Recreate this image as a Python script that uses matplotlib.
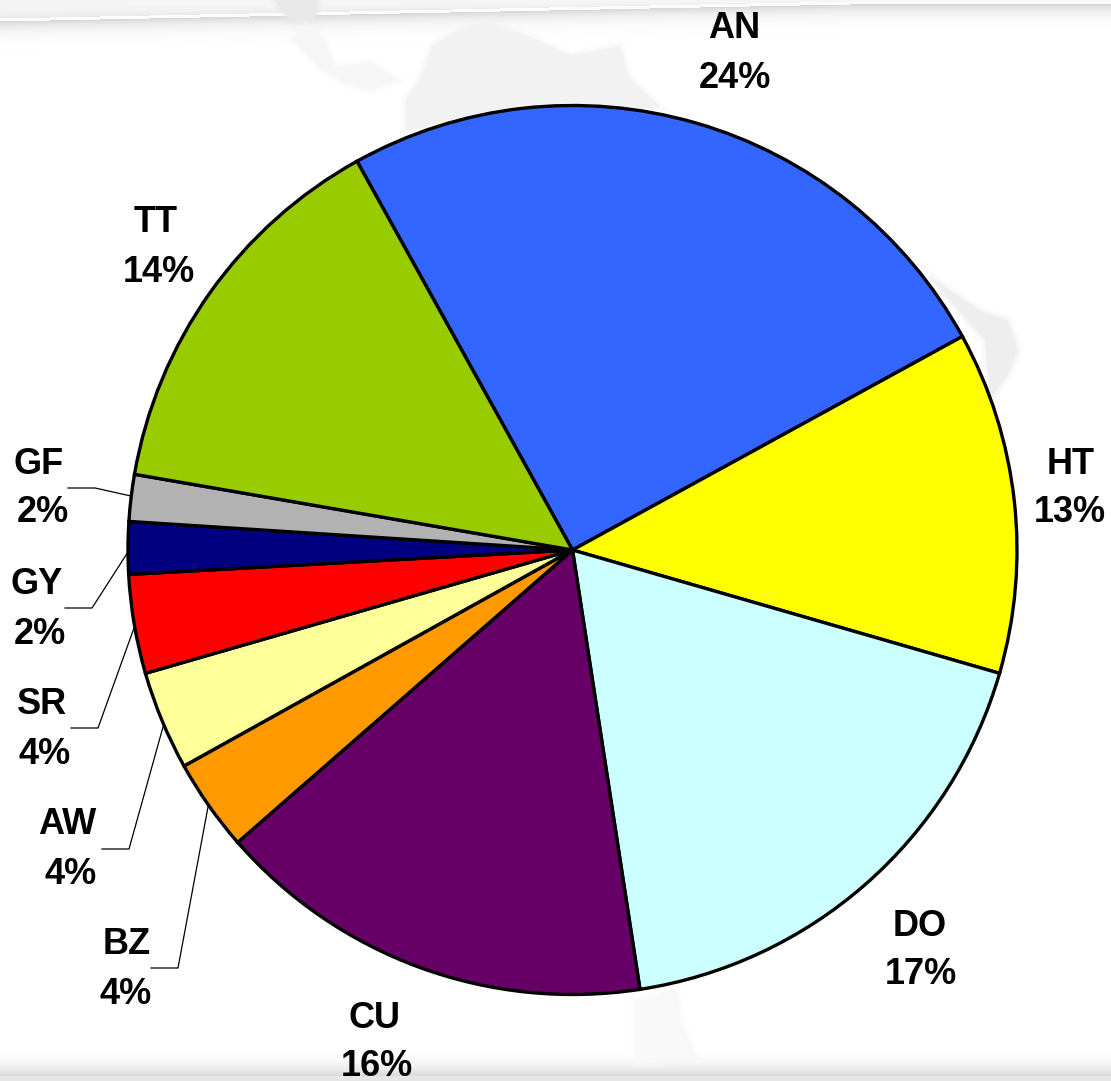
import matplotlib
matplotlib.use('Agg')
import matplotlib.pyplot as plt
import numpy as np

plt.rcParams['font.family'] = ['Liberation Sans', 'DejaVu Sans']

W, H = 1111, 1081

# Data, clockwise from the TT/AN boundary
codes = ['AN', 'HT', 'DO', 'CU', 'BZ', 'AW', 'SR', 'GY', 'GF', 'TT']
shown_pct = [24, 13, 17, 16, 4, 4, 4, 2, 2, 14]
# slices as drawn do not quite follow the printed percentages
slice_share = [25.08, 12.45, 18.1, 16.0, 3.35, 3.6, 3.6, 1.9, 1.7, 14.22]
colors = ['#3366FF', '#FFFF00', '#CCFFFF', '#660066', '#FF9900',
          '#FFFF99', '#FF0000', '#000080', '#B2B2B2', '#99CC00']

# Label layout in pixels: name x, name y, pct x, pct y
label_pos = [(734, 24, 735, 74), (1071, 461, 1070, 509), (920, 922, 921, 971),
             (375, 1014, 377, 1062), (127, 941, 126, 990), (67, 821, 71, 870),
             (42, 701, 45, 750), (37, 580, 40, 630), (39, 460, 43, 509),
             (156, 219, 159, 268)]

# Leader lines in pixels
leaders = [[(68, 488), (95, 488), (131, 496)],
           [(65, 608), (92, 608), (128, 552)],
           [(71, 728), (98, 728), (134, 628)],
           [(102, 849), (129, 849), (163, 727)],
           [(151, 968), (178, 968), (208, 807)]]

# Faint map shapes behind the pie, with their grey level
map_shapes = [([(293, 40), (305, 22), (321, 36), (335, 68), (370, 63), (396, 80), (370, 90),
                (347, 84), (320, 67)], '#F6F6F6'),
              ([(406, 130), (406, 100), (420, 80), (433, 46), (460, 30), (483, 22), (527, 36),
                (570, 56), (620, 46), (628, 77), (660, 107), (570, 115)], '#F2F2F2'),
              ([(930, 277), (983, 313), (1007, 320), (1018, 350), (1007, 375), (991, 398),
                (985, 340)], '#EEEEEE'),
              ([(636, 1002), (675, 990), (681, 1023), (697, 1060), (636, 1064)], '#F8F8F8'),
              ([(275, 0), (318, 0), (314, 20), (290, 20)], '#E8E8E8')]


def py(y):
    return H - y


fig = plt.figure(figsize=(W / 100, H / 100), dpi=100, facecolor='white')
ax = fig.add_axes([0, 0, 1, 1])

# Slide background: grey band along the top, shade along the bottom
xx, yy = np.meshgrid(np.arange(W), np.arange(H))
edge = np.maximum(19 - 0.02 * xx, 2)
bg = np.ones((H, W))
d = yy - edge
bg = np.where(d < -1, 0.96 - 0.06 * np.clip((yy / edge), 0, 1) ** 3, bg)
bg = np.where((d >= -1) & (d < 2), 0.985, bg)
below = (d >= 2) & (d < 45)
bg = np.where(below, 1 - 0.16 * np.exp(-(d - 2) / 8), bg)
bottom = np.clip((yy - 1045) / 30, 0, 1) ** 2.5
bg = np.where(yy > 1045, 1 - 0.15 * bottom, bg)
bg = np.where(yy > 1075, 0.9, bg)
ax.imshow(bg, cmap='gray', vmin=0, vmax=1, extent=(0, W, 0, H), origin='upper', zorder=0, aspect='auto')

# stacked translucent outlines soften the map edges
for shape, grey in map_shapes:
    xs = [p[0] for p in shape]
    ys = [py(p[1]) for p in shape]
    for lw, alpha in [(8, 0.15), (5, 0.2), (2, 0.3)]:
        ax.fill(xs, ys, facecolor=grey, edgecolor=grey, lw=lw, alpha=alpha, zorder=1)
    ax.fill(xs, ys, color=grey, lw=0, zorder=1)

ax.pie(slice_share, colors=colors, startangle=119, counterclock=False,
       center=(572.5, py(550)), radius=444.5,
       wedgeprops={'edgecolor': 'black', 'linewidth': 2.4, 'zorder': 2})

for path in leaders:
    ax.plot([p[0] for p in path], [py(p[1]) for p in path], color='black', lw=0.9, zorder=3)

for code, pct, (nx, ny, tx, ty) in zip(codes, shown_pct, label_pos):
    ax.text(nx, py(ny), code, fontsize=26, fontweight='bold', ha='center', va='center_baseline', zorder=4)
    ax.text(tx, py(ty), f'{pct}%', fontsize=26, fontweight='bold', ha='center', va='center_baseline', zorder=4)

ax.set_xlim(0, W)
ax.set_ylim(0, H)
ax.set_aspect('auto')
ax.axis('off')

fig.savefig('out.png', dpi=100)
